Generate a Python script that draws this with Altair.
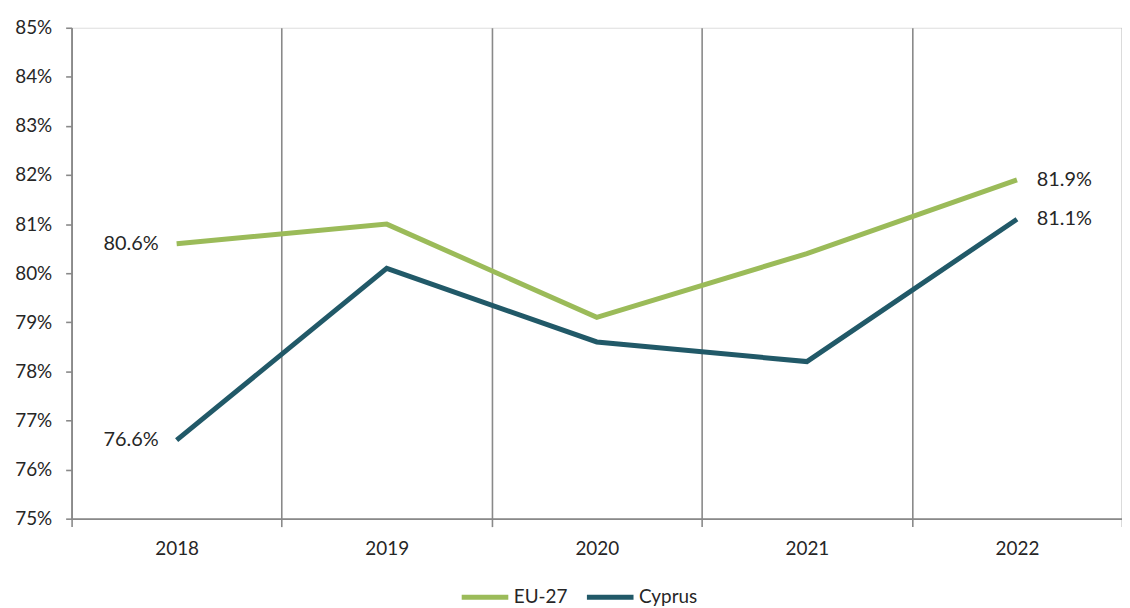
import altair as alt
import pandas as pd

years = ["2018", "2019", "2020", "2021", "2022"]
eu27 = [0.806, 0.810, 0.791, 0.804, 0.819]
cyprus = [0.766, 0.801, 0.786, 0.782, 0.811]
series = ["EU-27", "Cyprus"]
colors = ["#9BBB59", "#215968"]
y_ticks = [0.75, 0.76, 0.77, 0.78, 0.79, 0.80, 0.81, 0.82, 0.83, 0.84, 0.85]

rows = []
for name, vals in zip(series, [eu27, cyprus]):
    for i, (yr, v) in enumerate(zip(years, vals)):
        rows.append({"year": yr, "series": name, "value": v,
                     "first": i == 0, "last": i == len(years) - 1,
                     "label": f"{v*100:.1f}%"})
df = pd.DataFrame(rows)

FONT = "Lato"
GRAY = "#898989"
TXT = "#262626"

x_enc = alt.X("year:N", sort=years, title=None,
              scale=alt.Scale(paddingInner=0, paddingOuter=0),
              axis=alt.Axis(tickBand="extent", grid=True, gridColor=GRAY, gridWidth=1.6,
                            domainColor=GRAY, domainWidth=1.6, tickColor=GRAY, tickWidth=1.6,
                            tickSize=8, labelPadding=13, labelAngle=0,
                            labelFont=FONT, labelFontSize=19, labelColor=TXT))
y_enc = alt.Y("value:Q", title=None,
              scale=alt.Scale(domain=[0.75, 0.85], nice=False, zero=False),
              axis=alt.Axis(values=y_ticks, format=".0%", grid=False,
                            domainColor=GRAY, domainWidth=1.6, tickColor=GRAY, tickWidth=1.6,
                            tickSize=6, labelPadding=14,
                            labelFont=FONT, labelFontSize=19, labelColor=TXT))
color_enc = alt.Color("series:N", sort=series,
                      scale=alt.Scale(domain=series, range=colors),
                      legend=alt.Legend(title=None, orient="none", direction="horizontal",
                                        legendX=390, legendY=547,
                                        symbolType="stroke", symbolSize=2200,
                                        symbolStrokeWidth=5, labelOffset=3,
                                        columnPadding=8,
                                        labelFont=FONT, labelFontSize=19, labelColor=TXT))

base = alt.Chart(df)
lines = base.mark_line(strokeWidth=5).encode(x=x_enc, y=y_enc, color=color_enc)
left_labels = base.transform_filter("datum.first").mark_text(
    align="right", baseline="middle", dx=-18, font=FONT, fontSize=20, color=TXT
).encode(x=alt.X("year:N", sort=years), y="value:Q", text="label:N")
right_labels = base.transform_filter("datum.last").mark_text(
    align="left", baseline="middle", dx=20, font=FONT, fontSize=20, color=TXT
).encode(x=alt.X("year:N", sort=years), y="value:Q", text="label:N")

chart = alt.layer(lines, left_labels, right_labels).properties(
    width=1057, height=494,
    padding={"left": 64, "top": 18, "right": 0, "bottom": 86},
    autosize=alt.AutoSizeParams(type="none"),
).configure_view(stroke=None).configure(font=FONT)

chart.save("out.html", embed_options={"renderer": "svg", "actions": False})
